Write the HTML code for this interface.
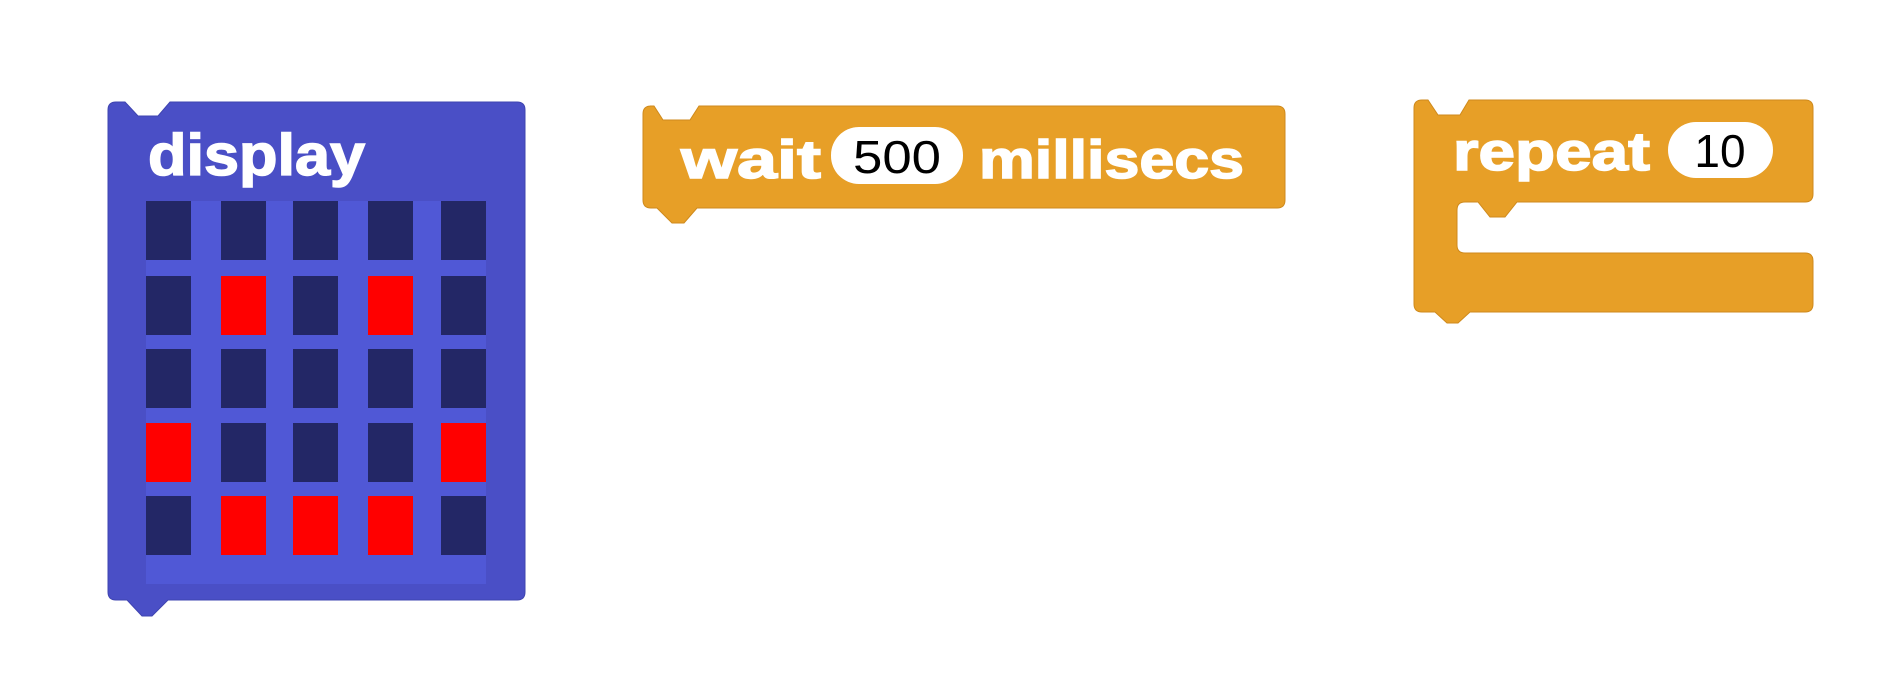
<!DOCTYPE html>
<html><head><meta charset="utf-8"><style>
html,body{margin:0;padding:0;background:#fff;width:1904px;height:683px;overflow:hidden}
svg{display:block}
.lbl{font-family:"Liberation Sans",sans-serif;font-weight:bold;fill:#fff;stroke:#fff;stroke-width:1.5}
.num{font-family:"Liberation Sans",sans-serif;fill:#000}
</style></head><body>
<svg id="s" width="1904" height="683" viewBox="0 0 1904 683">
  <g>
    <path fill="#4a4fc6" stroke="#3f44b0" stroke-width="1" d="M116,102 L125,102 L138,116 L158,116 L170,102 L517,102 Q525,102 525,110 L525,592 Q525,600 517,600 L168,600 L152,616 L142,616 L127,600 L116,600 Q108,600 108,592 L108,110 Q108,102 116,102 Z"/>
    <text class="lbl" x="148" y="175" font-size="58" textLength="217" lengthAdjust="spacingAndGlyphs">display</text>
    <rect x="146" y="201" width="340" height="383" fill="#5058d6"/>
    <g id="cells"></g>
  </g>
  <g>
    <path fill="#e79f27" stroke="#cf8a1c" stroke-width="1" d="M650,106 L654,106 L663,120 L690,120 L699,106 L1277,106 Q1285,106 1285,114 L1285,200 Q1285,208 1277,208 L697,208 L684,223 L672,223 L657,208 L651,208 Q643,208 643,200 L643,114 Q643,106 651,106 Z"/>
    <text class="lbl" x="681" y="178" font-size="54" textLength="140" lengthAdjust="spacingAndGlyphs">wait</text>
    <rect x="831" y="127" width="132" height="57" rx="28" fill="#fff"/>
    <text class="num" x="897" y="173" font-size="46" text-anchor="middle" textLength="88" lengthAdjust="spacingAndGlyphs">500</text>
    <text class="lbl" x="979" y="178" font-size="54" textLength="265" lengthAdjust="spacingAndGlyphs">millisecs</text>
  </g>
  <g>
    <path fill="#e79f27" stroke="#cf8a1c" stroke-width="1" d="M1422,100 L1428,100 L1438,115 L1460,115 L1469,100 L1805,100 Q1813,100 1813,108 L1813,194 Q1813,202 1805,202 L1517,202 L1505,217 L1490,217 L1478,202 L1465,202 Q1457,202 1457,210 L1457,245 Q1457,253 1465,253 L1805,253 Q1813,253 1813,261 L1813,304 Q1813,312 1805,312 L1470,312 L1458,323 L1447,323 L1435,312 L1422,312 Q1414,312 1414,304 L1414,108 Q1414,100 1422,100 Z"/>
    <text class="lbl" x="1453" y="170" font-size="54" textLength="197" lengthAdjust="spacingAndGlyphs">repeat</text>
    <rect x="1668" y="122" width="105" height="56" rx="28" fill="#fff"/>
    <text class="num" x="1720" y="167" font-size="46" text-anchor="middle">10</text>
  </g>
</svg>
<script>
const ledRows = [
  [0,0,0,0,0],
  [0,1,0,1,0],
  [0,0,0,0,0],
  [1,0,0,0,1],
  [0,1,1,1,0]
];
const colX = [146,221,293,368,441];
const rowY = [201,276,349,423,496];
const g = document.getElementById('cells');
ledRows.forEach((row, r) => row.forEach((on, c) => {
  const el = document.createElementNS('http://www.w3.org/2000/svg','rect');
  el.setAttribute('x', colX[c]);
  el.setAttribute('y', rowY[r]);
  el.setAttribute('width', 45);
  el.setAttribute('height', 59);
  el.setAttribute('fill', on ? '#ff0000' : '#232766');
  
  
  g.appendChild(el);
}));
</script>
</body></html>
